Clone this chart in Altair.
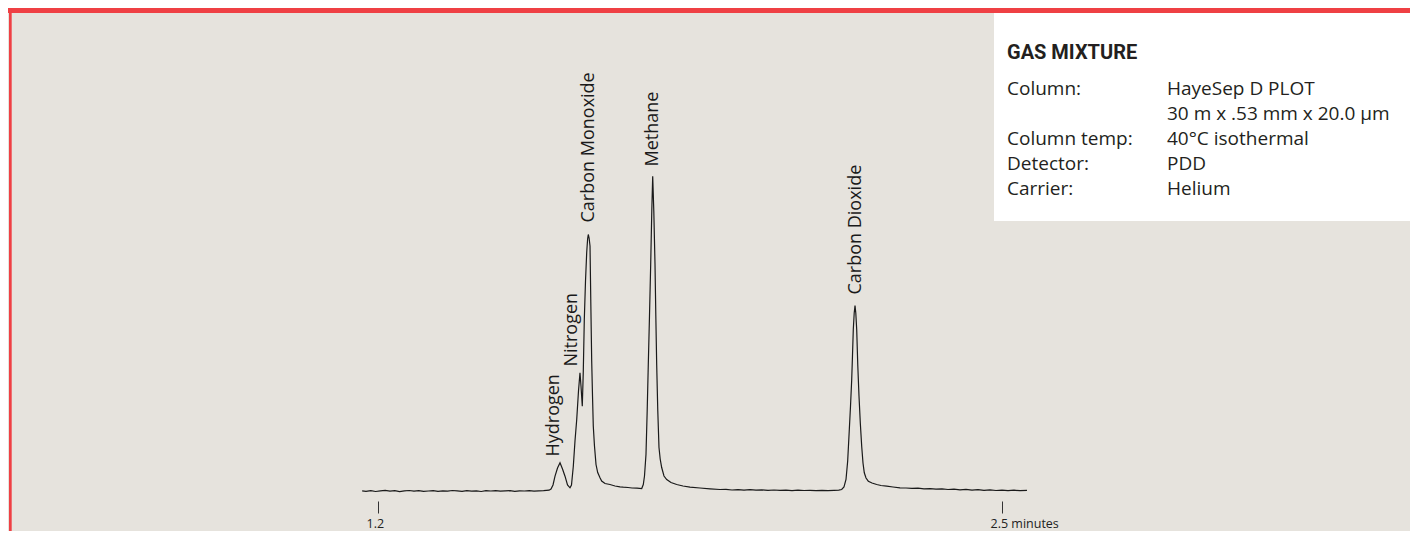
import altair as alt
import pandas as pd

# ---------------- data ----------------
# retention time (minutes)
time_min = [
    1.167, 1.175, 1.185, 1.195, 1.205, 1.215, 1.225, 1.235, 1.245, 1.255,
    1.265, 1.275, 1.285, 1.295, 1.305, 1.315, 1.325, 1.335, 1.345, 1.355,
    1.365, 1.375, 1.385, 1.395, 1.405, 1.415, 1.425, 1.435, 1.445, 1.455,
    1.465, 1.475, 1.485, 1.495, 1.505, 1.515, 1.525, 1.535, 1.545, 1.5563,
    1.5604, 1.5646, 1.5688, 1.574, 1.5792, 1.5844, 1.5896, 1.5948, 1.6, 1.6031,
    1.6069, 1.6104, 1.614, 1.6177, 1.6208, 1.6229, 1.6256, 1.6277, 1.6298, 1.6323,
    1.6348, 1.6367, 1.6381, 1.6398, 1.6417, 1.6433, 1.6452, 1.6469, 1.6485, 1.651,
    1.6542, 1.6577, 1.6625, 1.666, 1.6729, 1.6833, 1.6938, 1.7042, 1.711, 1.7208,
    1.7292, 1.7396, 1.7494, 1.7527, 1.7552, 1.7583, 1.7608, 1.7631, 1.7656, 1.7681,
    1.7704, 1.7723, 1.7746, 1.7771, 1.7788, 1.7806, 1.7829, 1.7854, 1.7879, 1.791,
    1.7958, 1.8015, 1.8104, 1.8223, 1.8354, 1.85, 1.8708, 1.8917, 1.9125, 1.925,
    1.9375, 1.95, 1.9625, 1.975, 1.9875, 2.0, 2.0125, 2.025, 2.0375, 2.05,
    2.0625, 2.075, 2.0875, 2.1, 2.1125, 2.125, 2.1375, 2.15, 2.16, 2.166,
    2.1708, 2.175, 2.1785, 2.1819, 2.1844, 2.1869, 2.1885, 2.1902, 2.1921, 2.1938,
    2.1954, 2.1973, 2.1996, 2.2021, 2.2048, 2.2077, 2.2104, 2.2131, 2.2167, 2.2215,
    2.2292, 2.239, 2.2479, 2.2598, 2.2729, 2.2875, 2.3, 2.3125, 2.325, 2.3375,
    2.35, 2.3625, 2.375, 2.3875, 2.4, 2.4125, 2.425, 2.4375, 2.45, 2.4625,
    2.475, 2.4875, 2.5, 2.5125, 2.525, 2.5375, 2.552,
]
# detector response (arbitrary units)
response = [
    0.2, -0.3, 0.4, -0.5, 0.1, 0.6, -0.2, 0.3, -0.6, 0.2,
    0.5, -0.1, 0.3, -0.4, 0.0, 0.4, -0.3, 0.2, -0.2, 0.5,
    0.1, -0.4, 0.3, -0.1, 0.2, -0.5, 0.3, 0.0, 0.4, -0.2,
    0.1, 0.3, -0.3, 0.2, 0.0, 0.3, -0.1, 0.2, 0.3, 0.8,
    2.0, 6.0, 14.8, 23.0, 28.2, 22.0, 14.8, 6.0, 3.2, 6.0,
    24.8, 50.0, 71.5, 100.0, 118.2, 105.0, 84.8, 120.0, 171.5, 210.0,
    238.5, 252.0, 256.5, 253.0, 245.0, 190.0, 130.0, 95.0, 65.0, 45.0,
    26.5, 18.5, 13.2, 10.0, 7.5, 6.5, 5.0, 4.2, 3.8, 3.5,
    3.0, 2.8, 2.5, 6.5, 15.0, 36.5, 80.0, 126.5, 175.0, 226.5,
    280.0, 314.8, 280.0, 226.5, 175.0, 126.5, 80.0, 43.5, 32.0, 23.5,
    15.0, 11.5, 8.5, 6.5, 5.0, 3.8, 3.0, 2.2, 1.5, 1.6,
    1.0, 1.4, 0.9, 1.3, 0.8, 1.1, 0.6, 1.0, 0.7, 0.9,
    0.4, 0.8, 0.5, 0.7, 0.3, 0.6, 0.4, 0.7, 0.9, 1.5,
    4.0, 11.5, 30.0, 61.5, 85.0, 111.5, 135.0, 161.5, 178.0, 185.5,
    178.0, 161.5, 125.0, 94.8, 68.0, 44.8, 28.0, 18.2, 13.0, 9.8,
    8.0, 6.5, 5.5, 4.8, 4.0, 3.2, 3.0, 2.6, 2.8, 2.2,
    2.4, 1.9, 2.1, 1.5, 1.9, 1.2, 1.6, 0.9, 1.3, 0.7,
    1.1, 0.5, 0.9, 0.4, 0.8, 0.3, 0.6,
]

peak_names = ["Hydrogen", "Nitrogen", "Carbon Monoxide", "Methane", "Carbon Dioxide"]
peak_label_time = [1.5667, 1.6052, 1.6396, 1.7729, 2.1948]
peak_label_height = [34.5, 124.5, 268.5, 324.5, 196.5]

tick_values = [1.2, 2.5]
tick_labels = ["1.2", "2.5 minutes"]

info_title = "GAS MIXTURE"
info_keys = ["Column:", "", "Column temp:", "Detector:", "Carrier:"]
info_values = ["HayeSep D PLOT", "30 m x .53 mm x 20.0 µm", "40°C isothermal", "PDD", "Helium"]

# ---------------- styling ----------------
RED = "#ef4044"
BEIGE = "#e6e3dd"
INK = "#1a1a1a"
TEXT = "#231f20"
FONT = "Open Sans"

trace = pd.DataFrame({"time": time_min, "response": response})
labels = pd.DataFrame({"name": peak_names, "time": peak_label_time, "height": peak_label_height})
one = pd.DataFrame({"k": [0]})

label_expr = " : ".join(
    f"abs(datum.value - {v}) < 1e-6 ? '{t}'" for v, t in zip(tick_values, tick_labels)
) + " : ''"

x_scale = alt.Scale(domain=[tick_values[0], tick_values[-1]], nice=False, zero=False)
y_scale = alt.Scale(domain=[0, 478], nice=False, zero=False)

line = alt.Chart(trace).mark_line(color=INK, strokeWidth=1.2).encode(
    x=alt.X(
        "time:Q",
        scale=x_scale,
        axis=alt.Axis(
            values=tick_values,
            labelExpr=label_expr,
            title=None,
            domain=False,
            grid=False,
            ticks=True,
            tickSize=12,
            tickWidth=1,
            tickColor="#333333",
            offset=10,
            labelPadding=4,
            labelAlign="left",
            labelOffset=-12,
            labelFlush=False,
            labelOverlap=False,
            labelFont=FONT,
            labelFontSize=12.5,
            labelColor="#222222",
        ),
    ),
    y=alt.Y("response:Q", scale=y_scale, axis=None),
)

peak_text = alt.Chart(labels).mark_text(
    angle=270, align="left", baseline="middle", font=FONT, fontSize=18, color=INK
).encode(
    x=alt.X("time:Q", scale=x_scale),
    y=alt.Y("height:Q", scale=y_scale),
    text="name:N",
)

top_bar = alt.Chart(one).mark_rect(color=RED).encode(
    x=alt.value(-370), x2=alt.value(1032), y=alt.value(-5), y2=alt.value(0)
)
left_bar = alt.Chart(one).mark_rect(color=RED).encode(
    x=alt.value(-369), x2=alt.value(-366.3), y=alt.value(-5), y2=alt.value(518)
)
info_box = alt.Chart(one).mark_rect(color="#ffffff").encode(
    x=alt.value(616), x2=alt.value(1032), y=alt.value(0), y2=alt.value(208)
)
info_head = alt.Chart(one).mark_text(
    text=info_title, font="Roboto", fontWeight="bold", fontSize=20,
    align="left", baseline="alphabetic", color=TEXT
).encode(x=alt.value(629), y=alt.value(46.3))

info_layers = []
for i, (key, val) in enumerate(zip(info_keys, info_values)):
    row_y = 81.7 + 25 * i
    if key:
        info_layers.append(
            alt.Chart(one).mark_text(
                text=key, font=FONT, fontSize=19, align="left",
                baseline="alphabetic", color=TEXT
            ).encode(x=alt.value(629), y=alt.value(row_y))
        )
    info_layers.append(
        alt.Chart(one).mark_text(
            text=val, font=FONT, fontSize=19, align="left",
            baseline="alphabetic", color=TEXT
        ).encode(x=alt.value(789), y=alt.value(row_y))
    )

chart = alt.layer(
    top_bar, left_bar, info_box, line, peak_text, info_head, *info_layers
).properties(
    width=624,
    height=478,
    padding={"left": 370, "top": 5, "right": 408, "bottom": 40},
    autosize=alt.AutoSizeParams(type="none"),
).configure(
    background=BEIGE
).configure_view(
    strokeWidth=0
)

chart.save("out.html", embed_options={"renderer": "svg", "actions": False})
